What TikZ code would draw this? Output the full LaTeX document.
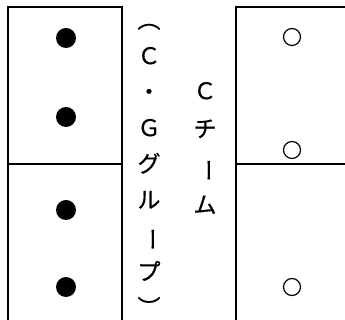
\documentclass[tikz,border=0pt]{standalone}
\usepackage{fontspec}
\newfontfamily\cjk[FakeBold=0.6]{Noto Sans CJK JP}
\newcommand{\vbar}{\rotatebox[origin=c]{-90}{ー}}
\begin{document}
\begin{tikzpicture}[x=1pt,y=1pt,
  frame/.style={line width=1.6pt},
  dot/.style={circle,fill=black,inner sep=0pt,minimum size=20pt},
  ring/.style={circle,draw=black,line width=1.2pt,inner sep=0pt,minimum size=17pt},
  vtext/.style={align=center,inner sep=0pt}]
\useasboundingbox (0,0) rectangle (345,320);
\clip (0,0) rectangle (345,320);
% left box
\draw[frame] (8,-10) -- (8,313) -- (122,313) -- (122,-10);
\draw[frame] (8,156) -- (122,156);
% right box
\draw[frame] (236,-10) -- (236,313) -- (360,313);
\draw[frame] (236,156) -- (360,156);
% filled dots
\node[dot] (d1) at (66,282) {};
\node[dot] (d2) at (66,203) {};
\node[dot] (d3) at (66,110) {};
\node[dot] (d4) at (66,33) {};
% hollow circles
\node[ring] (r1) at (292,283) {};
\node[ring] (r2) at (292,170) {};
\node[ring] (r3) at (292,33) {};
% vertical texts
\node[vtext,font=\cjk\fontsize{23}{36}\selectfont] (t1) at (149,150) {︵\\Ｃ\\・\\Ｇ\\グ\\ル\\\vbar\\プ\\︶};
\node[vtext,font=\cjk\fontsize{23}{38}\selectfont] (t2) at (205,172) {Ｃ\\チ\\\vbar\\ム};
\end{tikzpicture}
\end{document}
